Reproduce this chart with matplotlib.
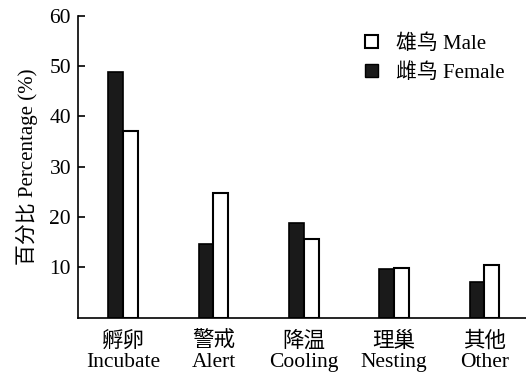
import numpy as np
import matplotlib.pyplot as plt
from matplotlib.patches import Patch

# Datos
cats_cn = ['孵卵', '警戒', '降温', '理巢', '其他']
cats_en = ['Incubate', 'Alert', 'Cooling', 'Nesting', 'Other']
female = [48.8, 14.7, 18.8, 9.6, 7.0]
male = [37.0, 24.7, 15.6, 9.8, 10.5]
yticks = [10, 20, 30, 40, 50, 60]

plt.rcParams['font.family'] = ['Liberation Serif', 'Noto Sans CJK SC']

fig = plt.figure(figsize=(5.26, 3.74), dpi=100)
ax = fig.add_axes([78/526, 1 - 317.7/374, 448/526, (317.7 - 15.6)/374])

x = np.arange(len(cats_en))
w = 0.165
ax.bar(x - w/2, female, w, color='#1a1a1a', edgecolor='black', linewidth=1.2)
ax.bar(x + w/2, male, w, color='white', edgecolor='black', linewidth=1.5)

ax.set_xlim(-0.5, 4.46)
ax.set_ylim(0, 60)
ax.set_yticks(yticks)
ax.tick_params(axis='y', direction='in', length=5, width=1.2, labelsize=15.5, pad=5)
ax.set_xticks(x)
ax.set_xticklabels([f'{c}\n{e}' for c, e in zip(cats_cn, cats_en)], fontsize=15.5, linespacing=1.1)
ax.tick_params(axis='x', length=0, pad=10)
for s in ['top', 'right']:
    ax.spines[s].set_visible(False)
for s in ['left', 'bottom']:
    ax.spines[s].set_linewidth(1.2)

ax.set_ylabel('百分比 Percentage (%)', fontsize=15, labelpad=8)

handles = [Patch(facecolor='white', edgecolor='black', linewidth=1.5),
           Patch(facecolor='#1a1a1a', edgecolor='black')]
ax.legend(handles, ['雄鸟 Male', '雌鸟 Female'], loc='upper right', bbox_to_anchor=(0.995, 1.0),
          frameon=False, fontsize=15, handlelength=0.6, handleheight=0.6,
          handletextpad=0.9, labelspacing=0.45)

fig.savefig('out.png', dpi=100)
